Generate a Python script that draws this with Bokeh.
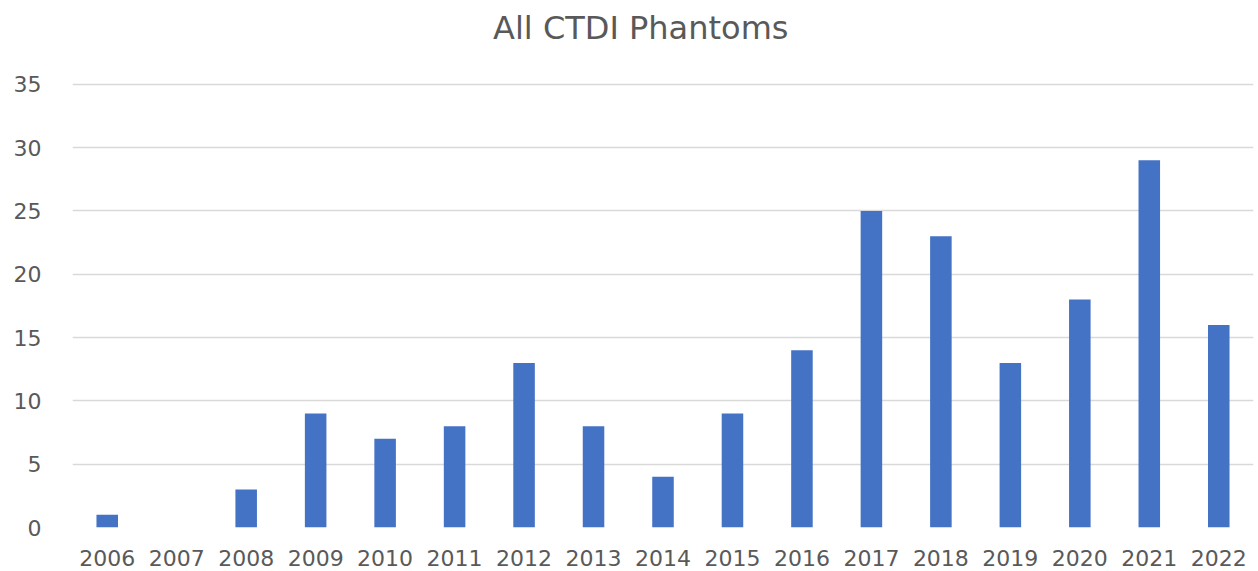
from bokeh.plotting import figure
from bokeh.models import ColumnDataSource, FactorRange, Range1d, FixedTicker
from bokeh.core.properties import value
from bokeh.embed import file_html
from bokeh.resources import INLINE

years = ["2006", "2007", "2008", "2009", "2010", "2011", "2012", "2013", "2014",
         "2015", "2016", "2017", "2018", "2019", "2020", "2021", "2022"]
counts = [1, 0, 3, 9, 7, 8, 13, 8, 4, 9, 14, 25, 23, 13, 18, 29, 16]
y_ticks = [0, 5, 10, 15, 20, 25, 30, 35]
title_text = "All CTDI Phantoms"

FONT = "DejaVu Sans"

source = ColumnDataSource(data=dict(year=years, count=counts))

# frame spans the full top of the canvas so the title can sit inside it
p = figure(width=1258, height=571, x_range=FactorRange(*years, range_padding=0),
           y_range=Range1d(0, 41.62), output_backend="svg", toolbar_location=None,
           min_border_left=72, min_border_right=5,
           min_border_top=0, min_border_bottom=44)

p.vbar(x="year", top="count", width=0.31, source=source,
       fill_color="#4472C4", line_color=None)

p.text(x=[8.18], y=[39.45], text=[title_text], text_align="center",
       text_baseline="middle", text_font=value(FONT),
       text_font_size="32px", text_color="#595959")

p.outline_line_color = None
p.background_fill_color = "white"
p.border_fill_color = "white"

p.xgrid.grid_line_color = None
p.ygrid.grid_line_color = "#d9d9d9"
p.ygrid.grid_line_width = 1.5
p.yaxis.ticker = FixedTicker(ticks=y_ticks)

for ax in (p.xaxis[0], p.yaxis[0]):
    ax.axis_line_color = None
    ax.major_tick_line_color = None
    ax.minor_tick_line_color = None
    ax.major_label_text_font = FONT
    ax.major_label_text_font_size = "22px"
    ax.major_label_text_color = "#595959"

p.xaxis.major_label_standoff = 16
p.yaxis.major_label_standoff = 25

open("out.html", "w").write(file_html(p, INLINE))
